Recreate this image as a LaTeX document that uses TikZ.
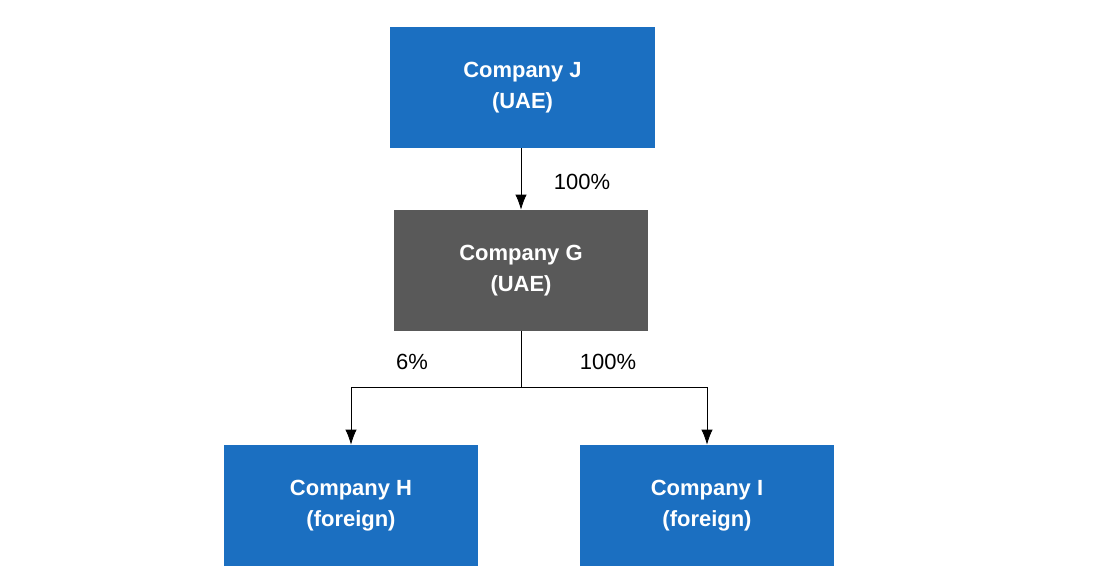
\documentclass[tikz,border=0pt]{standalone}
\usepackage{fontspec}
\setmainfont{Liberation Sans}
\usetikzlibrary{arrows.meta, positioning}
\definecolor{boxblue}{HTML}{1B6FC1}
\definecolor{boxgrey}{HTML}{595959}

\begin{document}
\begin{tikzpicture}[x=0.02cm, y=-0.02cm,
  company/.style={rectangle, fill=boxblue, text=white, font=\bfseries\fontsize{12.5}{18}\selectfont, align=center, minimum width=5.08cm, minimum height=2.42cm, inner sep=0pt},
  pct/.style={font=\fontsize{12.5}{15}\selectfont}]
\useasboundingbox (0,0) rectangle (1099,581);

\node (J)[company, minimum width=5.3cm] at (522.5,87.5) {Company J\\(UAE)};
\node (G)[company, fill=boxgrey] at (521,270.5) {Company G\\(UAE)};
\node (H)[company] at (351,505.5) {Company H\\(foreign)};
\node (I)[company] at (707,505.5) {Company I\\(foreign)};
\coordinate (split) at (521,387);

\draw[-{Latex[length=3mm]}] (J.south -| G) -- (G);
\draw (G) -- (split);
\draw[-{Latex[length=3mm]}] (split) -| (H);
\draw[-{Latex[length=3mm]}] (split) -| (I);

\node[pct] at (582,182) {100\%};
\node[pct] at (412,362) {6\%};
\node[pct] at (608,362) {100\%};
\end{tikzpicture}
\end{document}
